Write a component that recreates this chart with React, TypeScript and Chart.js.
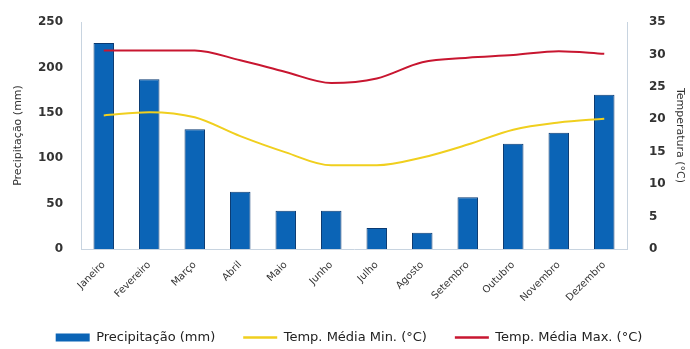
import React, { useEffect, useRef } from "react";
import { Chart, registerables } from "chart.js";

Chart.register(...registerables);

const months = ["Janeiro", "Fevereiro", "Março", "Abril", "Maio", "Junho", "Julho", "Agosto", "Setembro", "Outubro", "Novembro", "Dezembro"];
const precipitation = [227, 187, 132, 63, 42, 42, 23, 18, 57, 116, 128, 170];
const tempMin = [20.6, 21.1, 20.3, 17.4, 14.9, 12.9, 12.9, 14.1, 16.1, 18.4, 19.5, 20.1];
const tempMax = [30.6, 30.6, 30.6, 29.1, 27.3, 25.6, 26.3, 28.8, 29.5, 29.9, 30.5, 30.1];
const precipTicks = [0, 50, 100, 150, 200, 250];
const tempTicks = [0, 5, 10, 15, 20, 25, 30, 35];

const FONT = "'DejaVu Sans', sans-serif";

export default function App() {
  const ref = useRef<HTMLCanvasElement>(null);
  useEffect(() => {
    document.body.style.margin = "0";
    const ctx = ref.current!;
    const chart = new Chart(ctx, {
      type: "bar",
      data: {
        labels: months,
        datasets: [
          {
            type: "bar",
            label: "Precipitação (mm)",
            data: precipitation,
            backgroundColor: "#0b64b6",
            borderColor: "#0a3a72",
            borderWidth: 1,
            yAxisID: "y",
            barPercentage: 0.45,
            categoryPercentage: 1,
            order: 2,
          } as any,
          {
            type: "line",
            label: "Temp. Média Min. (°C)",
            data: tempMin,
            borderColor: "#f0cf1e",
            backgroundColor: "#f0cf1e",
            borderWidth: 2,
            pointRadius: 0,
            cubicInterpolationMode: "monotone",
            yAxisID: "y1",
            order: 1,
          } as any,
          {
            type: "line",
            label: "Temp. Média Max. (°C)",
            data: tempMax,
            borderColor: "#c81630",
            backgroundColor: "#c81630",
            borderWidth: 2,
            pointRadius: 0,
            cubicInterpolationMode: "monotone",
            yAxisID: "y1",
            order: 0,
          } as any,
        ],
      },
      options: {
        animation: false,
        responsive: false,
        layout: { padding: { left: 12, right: 4, top: 22, bottom: -5 } },
        plugins: {
          tooltip: { enabled: false },
          legend: {
            position: "bottom",
            labels: {
              font: { family: FONT, size: 13 },
              color: "#222",
              usePointStyle: true,
              pointStyleWidth: 34,
              boxHeight: 8,
              padding: 28,
              generateLabels: (c: any) =>
                c.data.datasets.map((ds: any, i: number) => ({
                  text: ds.label,
                  fillStyle: ds.backgroundColor,
                  strokeStyle: ds.type === "bar" ? ds.backgroundColor : ds.borderColor,
                  lineWidth: ds.type === "bar" ? 0 : 2.5,
                  pointStyle: ds.type === "bar" ? "rect" : "line",
                  datasetIndex: i,
                  hidden: false,
                  fontColor: "#222",
                })),
            },
          },
        },
        scales: {
          x: {
            grid: { display: false },
            border: { color: "#c8d4e0" },
            ticks: {
              font: { family: FONT, size: 10 },
              color: "#333",
              minRotation: 45,
              maxRotation: 45,
              padding: 2,
            },
            afterFit: (s: any) => {
              s.height = 54;
            },
          },
          y: {
            position: "left",
            min: 0,
            max: 250,
            afterBuildTicks: (s: any) => {
              s.ticks = precipTicks.map((v) => ({ value: v }));
            },
            grid: { display: false },
            border: { color: "#c8d4e0" },
            ticks: {
              font: { family: FONT, size: 12, weight: "bold" },
              color: "#333",
              padding: 10,
            },
            title: {
              display: true,
              text: "Precipitação (mm)",
              font: { family: FONT, size: 11 },
              color: "#333",
              padding: { top: 0, bottom: 0 },
            },
            afterFit: (s: any) => {
              s.width = 69;
            },
          },
          y1: {
            position: "right",
            min: 0,
            max: 35,
            afterBuildTicks: (s: any) => {
              s.ticks = tempTicks.map((v) => ({ value: v }));
            },
            grid: { display: false, drawOnChartArea: false },
            border: { color: "#c8d4e0" },
            ticks: {
              font: { family: FONT, size: 12, weight: "bold" },
              color: "#333",
              padding: 14,
            },
            title: {
              display: true,
              text: "Temperatura (°C)",
              font: { family: FONT, size: 11 },
              color: "#333",
              padding: { top: 0, bottom: 0 },
            },
            afterFit: (s: any) => {
              s.width = 59;
            },
          },
        },
      },
    });
    return () => chart.destroy();
  }, []);
  return (
    <div style={{ width: 690, height: 349, background: "#fff" }}>
      <canvas ref={ref} width={690} height={349} style={{ display: "block" }} />
    </div>
  );
}
